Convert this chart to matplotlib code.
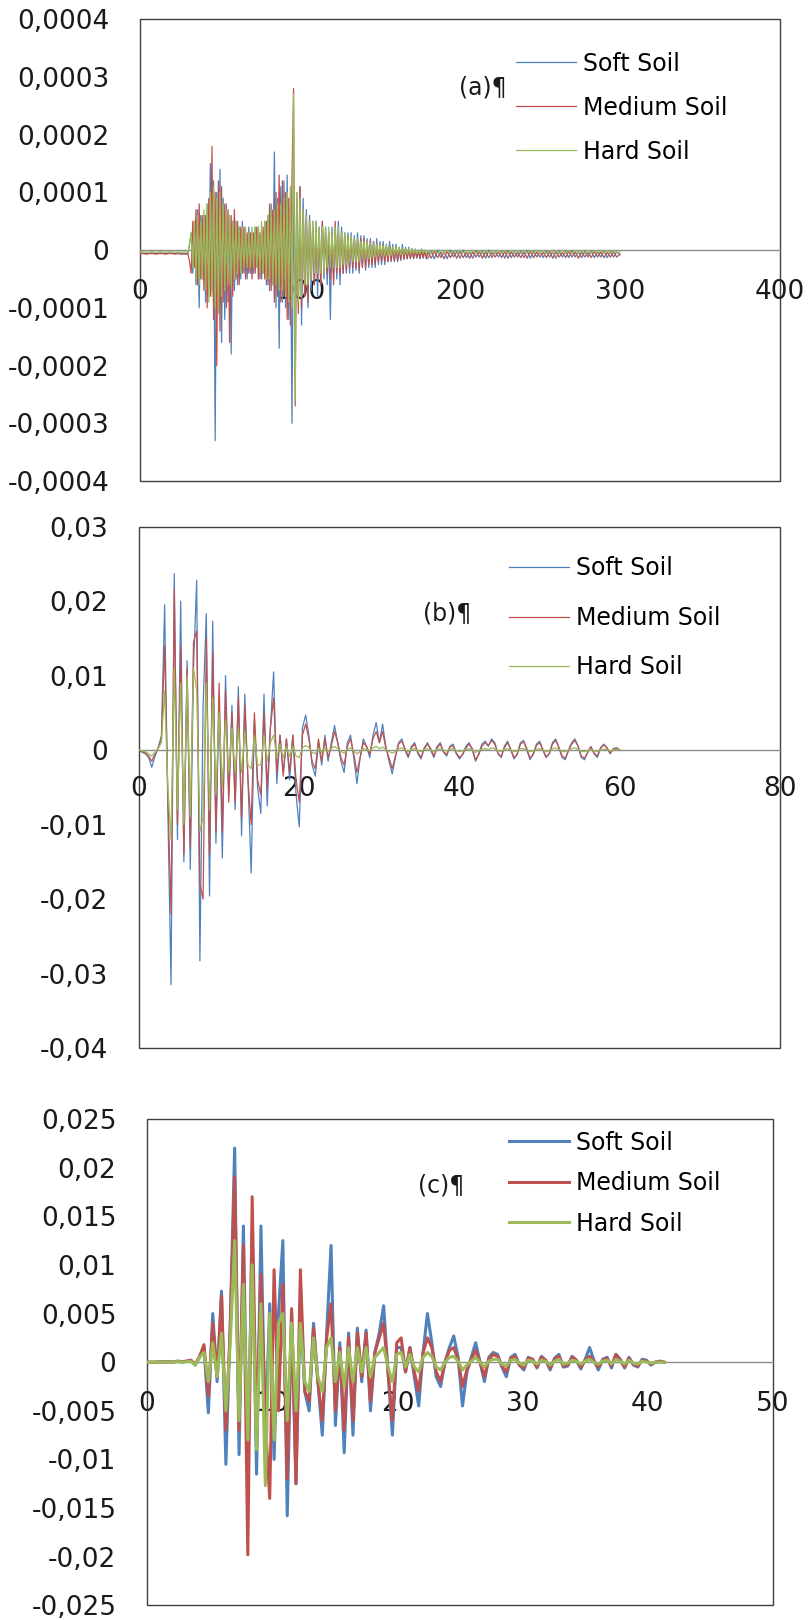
import numpy as np
import matplotlib
matplotlib.use("Agg")
import matplotlib.pyplot as plt

# ---------------- data ----------------
series_names = ["Soft Soil", "Medium Soil", "Hard Soil"]
series_colors = ["#4F81BD", "#C0504D", "#9BBB59"]

# panel (a): sampled every 2 s up to 28, every 1 s from 30 to 179, every 2 s from 180 to 300
# values in 1e-5
a_segments = [(0, 30, 2), (30, 180, 1), (180, 301, 2)]
soft_a = [
    # 0-28
    -0.5, -0.5, -0.6, -0.5, -0.5, -0.6, -0.5, -0.5, -0.6, -0.5, -0.5, -0.6, -0.5, -0.6, -0.7,
    # 30-179
    -0.6, 1, 3, -4, 5, -6, 7, -10, 6, -5,
    6, -9, 8, -5, 15, -7, 12, -33, 10, -8,
    14, -16, 9, -12, 8, -9, 6, -18, 5, -7,
    5, -6, 4, -5, 5, -4, 3, -5, 4, -4,
    3, -4, 4, -3, 4, -5, 3, -4, 5, -6,
    6, -7, 8, -6, 17, -10, 9, -17, 11, -9,
    12, -10, 13, -12, 9, -30, 12, -14, 10, -9,
    11, -13, 9, -8, 7, -10, 6, -7, 5, -6,
    5, -8, 4, -6, 5, -5, 4, -6, 3, -12,
    4, -5, 4, -5, 5, -6, 4, -4, 3, -4,
    3, -4, 3, -4, 2.5, -3.5, 3, -4, 2.5, -3,
    2.5, -3.5, 2, -3, 2, -3, 1.5, -3, 2, -2.5,
    1.5, -2.5, 1.5, -2.5, 1, -2, 1.5, -2, 1, -2,
    1, -2, 0.5, -1.8, 1, -1.6, 0.5, -1.5, 0.5, -1.5,
    0.3, -1.5, 0.2, -1.4, 0, -1.5, 0.2, -1.4, 0, -1.5,
    # 180-300
    -1.4, -0.2, -1.5, 0, -1.3, -0.3, -1.5, 0, -1.2, -0.2,
    -1.4, 0, -1.3, -0.3, -1.4, -0.1, -1.2, -0.2, -1.4, 0,
    -1.3, -0.3, -1.2, -0.2, -1.4, -0.1, -1.3, -0.3, -1.2, -0.2,
    -1.3, -0.1, -1.4, -0.2, -1.2, -0.3, -1.3, -0.1, -1.2, -0.3,
    -1.4, -0.2, -1.2, -0.2, -1.3, -0.1, -1.2, -0.3, -1.3, -0.2,
    -1.2, -0.2, -1.3, -0.3, -1.2, -0.2, -1.3, -0.2, -1.2, -0.3, -0.8]
medium_a = [
    -0.6, -0.6, -0.7, -0.6, -0.6, -0.7, -0.6, -0.6, -0.7, -0.6, -0.6, -0.7, -0.6, -0.7, -0.6,
    -0.7, -2, -4, 5, -3, 7, -6, 8, -5, 6,
    -7, 6, -10, 9, -8, 18, -12, 10, -20, 12,
    -14, 11, -9, 8, -10, 7, -16, 6, -8, 7,
    -5, 5, -6, 4, -4, 4, -5, 3, -4, 3,
    -5, 3, -4, 4, -5, 3, -5, 4, -5, 5,
    -6, 8, -7, 7, -9, 10, -8, 13, -9, 12,
    -8, 10, -12, 9, -13, 12, 28, -27, 9, -11,
    11, -10, 7, -8, 6, -9, 5, -5, 4, -6,
    4, -5, 3, -6, 5, -4, 3, -4, 3, -5,
    3, -6, 5, -4, 3, -4, 3, -4, 2.5, -3.5,
    2.5, -3, 2, -3, 2, -3, 2, -3.5, 2, -3,
    2, -3, 1.5, -2.5, 1.5, -2.5, 1.5, -2.5, 1, -2,
    1, -2, 1, -2, 0.5, -2, 0.8, -1.8, 0.5, -1.8,
    0.5, -1.8, 0.3, -1.6, 0.3, -1.5, 0.2, -1.5, 0, -1.4,
    0, -1.4, 0, -1.3, -0.2, -1.4, -0.1, -1.3, -0.2, -1.4,
    -0.3, -1.4, -0.2, -1.3, -0.4, -1.5, -0.2, -1.3, -0.3, -1.4,
    -0.2, -1.3, -0.4, -1.4, -0.3, -1.2, -0.2, -1.4, -0.3, -1.3,
    -0.4, -1.2, -0.3, -1.3, -0.2, -1.4, -0.3, -1.2, -0.4, -1.3,
    -0.3, -1.4, -0.2, -1.3, -0.3, -1.2, -0.4, -1.3, -0.2, -1.4,
    -0.3, -1.2, -0.4, -1.3, -0.2, -1.2, -0.3, -1.4, -0.3, -1.2,
    -0.4, -1.3, -0.2, -1.2, -0.3, -1.3, -0.4, -1.2, -0.3, -1.2, -0.7]
hard_a = [
    -0.3, -0.3, -0.4, -0.3, -0.3, -0.4, -0.3, -0.3, -0.4, -0.3, -0.3, -0.4, -0.3, -0.4, -0.3,
    -0.4, 1, 3, -3, 5, -5, 6, -6, 5, -5,
    7, -7, 8, -9, 10, -8, 11, -10, 9, -11,
    10, -8, 8, -7, 7, -6, 6, -6, 5, -5,
    5, -4, 4, -4, 4, -3, 4, -3, 3, -3,
    4, -3, 4, -3, 4, -4, 5, -4, 5, -5,
    6, -5, 7, -6, 7, -6, 8, -7, 8, -7,
    9, -8, 10, -9, 11, -10, 27, -26, 10, -9,
    9, -8, 7, -6, 6, -6, 5, -5, 5, -4,
    5, -4, 4, -4, 4, -4, 4, -3, 4, -3,
    3, -3, 4, -3, 4, -3, 3, -2.5, 3, -2.5,
    2.5, -2, 2.5, -2, 2, -2, 2, -2, 1.5, -1.5,
    1.5, -1.5, 1.5, -1.5, 1.2, -1.2, 1.2, -1.2, 1, -1,
    1, -1, 0.8, -1, 0.8, -0.9, 0.6, -0.9, 0.6, -0.8,
    0.5, -0.8, 0.5, -0.8, 0.4, -0.7, 0.3, -0.7, 0.3, -0.7,
    0.2, -0.6, 0.1, -0.6, 0, -0.6, 0.1, -0.5, 0, -0.6,
    0, -0.6, 0, -0.5, -0.1, -0.6, 0, -0.5, -0.1, -0.6,
    0, -0.5, -0.1, -0.6, 0, -0.5, -0.1, -0.6, 0, -0.5,
    -0.1, -0.6, 0, -0.5, -0.1, -0.6, 0, -0.5, -0.1, -0.6,
    0, -0.5, -0.1, -0.6, 0, -0.5, -0.1, -0.6, 0, -0.5,
    -0.1, -0.6, 0, -0.5, -0.1, -0.6, 0, -0.5, -0.1, -0.6,
    0, -0.5, -0.1, -0.6, 0, -0.5, -0.1, -0.6, 0, -0.5, -0.3]

# panel (b): sample step 0.4 s, values in 1e-3
b_segments = [(0, 60.2, 0.4)]
soft_b = [0, -0.3, -0.5, -1, -2.3, -0.8, 0.3, 2, 19.5, -8,
          -31.5, 23.7, -12, 20, -15, 12, -16, 11, 22.8, -28.3,
          6, 18.3, -19.6, 17.3, -12.5, 7, -14.5, 10, -6, 6,
          -8, 8.5, -11.5, 7.5, -4, -16.5, 4, -5, -8.5, 7.5,
          -7.5, 3, 10.5, -4.5, 2, -3, 1.5, -4, 2, -6,
          -10.3, 3, 4.7, 2, -2, -3.5, 1, -2, 2, -1.5,
          1, 3.3, 1, -1.5, -3, 1, 2, -1, -4.5, -1,
          1.5, 0.5, -1, 2, 3.7, 1, 3.5, 0.5, -1.5, -3.2,
          -1, 1, 1.5, 0, -1, 0.5, 1, -0.5, -1.2, 0.3,
          1, 0, -1, 0.5, 1, -0.3, -0.8, 0.5, 0.8, -0.5,
          -1.2, -0.5, 0.5, 1, 0, -1.5, -0.5, 0.8, 1.2, 0.5,
          1.5, 1, -0.5, -1, 0.5, 1.2, 0, -1.2, -0.5, 1,
          1.3, 0, -1.3, -0.5, 0.8, 1.2, 0, -1, -0.5, 1,
          1.5, 0.3, -1, -1.3, 0, 1, 1.5, 0.5, -1, -1.3,
          -0.3, 0.5, -0.5, -1, 0.3, 0.8, 0.3, -0.5, 0.2, 0.3, 0]
medium_b = [0, -0.2, -0.4, -0.8, -1.5, -0.5, 0.3, 1.5, 14, -6,
            -22, 21.5, -10, 14, -14, 11, -13, 14.5, 16, -18,
            -20, 15, -14, 13, -11, 9, -11, 8, -7, 5,
            -7, 7, -9, 6, -4, -10, 5, -4, -6, 5,
            -5, 3, 7, -3, 2, -3.5, 1.5, -3, 2, -4,
            -7, 2, 3.5, 1.5, -1.5, -2.5, 1.5, -1.5, 1.5, -1,
            0.5, 2.5, 1, -1, -2, 0.5, 1.5, -0.5, -3, -1,
            1, 0.5, -0.5, 1.5, 2.5, 1, 2.5, 0.3, -1, -2.5,
            -0.8, 0.8, 1.2, 0.2, -0.8, 0.3, 0.8, -0.3, -1, 0.2,
            0.8, 0.2, -0.8, 0.3, 0.8, -0.2, -0.6, 0.4, 0.6, -0.4,
            -1, -0.6, 0.3, 0.8, 0.2, -1.3, -0.6, 0.5, 1, 0.6,
            1.3, 0.8, -0.4, -0.9, 0.3, 1, 0.1, -1, -0.6, 0.8,
            1.1, 0.2, -1.1, -0.6, 0.6, 1, 0.1, -0.9, -0.5, 0.8,
            1.3, 0.4, -0.8, -1.1, -0.1, 0.8, 1.3, 0.5, -0.8, -1.1,
            -0.3, 0.4, -0.4, -0.8, 0.2, 0.7, 0.3, -0.4, 0.1, 0.3, 0]
hard_b = [0, -0.1, -0.2, -0.5, -0.8, -0.3, 0.2, 1, 8, -5,
          -12, 11, -8, 9, -10, 10, -9, 11, 8, -11,
          -9, 9, -8, 7, -6, 5, -5, 4, -3, 3,
          -3, 3, -3, 2.5, -2, -2.5, 2, -2, -2, 2,
          -1.5, 1, 2, -1, 0.8, -1, 0.5, -0.8, 0.5, -0.8,
          -1, 0.3, 0.6, 0.4, -0.3, -0.5, 0.3, -0.3, 0.3, -0.2,
          0.2, 0.5, 0.2, -0.2, -0.4, 0.1, 0.3, -0.1, -0.5, -0.2,
          0.2, 0.1, -0.1, 0.3, 0.5, 0.2, 0.4, 0.1, -0.2, -0.4,
          -0.2, 0.2, 0.3, 0, -0.2, 0.1, 0.2, -0.1, -0.2, 0.1,
          0.2, 0, -0.2, 0.1, 0.2, 0, -0.1, 0.1, 0.2, -0.1,
          -0.2, -0.1, 0.1, 0.2, 0, -0.3, -0.1, 0.1, 0.2, 0.1,
          0.3, 0.2, -0.1, -0.2, 0.1, 0.2, 0, -0.2, -0.1, 0.2,
          0.2, 0, -0.2, -0.1, 0.1, 0.2, 0, -0.2, -0.1, 0.2,
          0.3, 0.1, -0.2, -0.2, 0, 0.2, 0.3, 0.1, -0.2, -0.2,
          -0.1, 0.1, -0.1, -0.2, 0, 0.1, 0.1, -0.1, 0, 0.1, 0]

# panel (c): sample step 0.35 s, values in 1e-3
c_segments = [(0, 41.4, 0.35)]
soft_c = [0, 0, 0, 0, 0.05, 0, 0.05, 0.1, 0, 0.1,
          0.2, -0.3, 0.5, 1.5, -5.2, 5, -2, 7.3, -10.5, 4,
          22, -9.5, 14, -12, 13.5, -11.5, 14, -8, 6, -10,
          5, 12.5, -15.8, 5, -12.5, 6, -3, -5, 4, -2,
          -7.5, 3, 12, -6.5, 2, -9.3, 3, -7.5, 3.5, -2,
          3.3, -5, 1, 3, 5.8, -1, -7.5, 1.5, 1.5, -1,
          1.5, -1.5, -4.5, 1, 5, 2, -1.5, -2.5, 0, 1.5,
          2.7, 0.5, -4.5, -1, 0.5, 2, 0, -2, 0.5, 1,
          0.8, -0.5, -1.5, 0.5, 0.8, -0.3, -0.8, 0.5, 0.3, -0.6,
          0.6, 0.2, -0.8, 0.4, 0.8, -0.5, -0.4, 0.6, 0.2, -0.7,
          0.3, 1.5, 0.2, -0.8, 0.3, 0.5, -0.6, 0.8, 0.3, -0.6,
          0.5, -0.3, -0.5, 0.3, 0.2, -0.3, 0, 0.1, 0]
medium_c = [0, 0, 0, 0.05, 0, 0.05, 0, 0.1, 0.05, 0.1,
            0.2, -0.2, 0.6, 1.8, -3.5, 4, -1.5, 6.8, -7, 3.5,
            19, -7, 12, -19.8, 17, -8, 9, -6, -14, 9.5,
            -5, 8, -12, 5.5, -12.5, 9.5, -3, -4, 3.5, -2,
            -6, 2.5, 6, -5, 1.5, -7, 2.5, -6, 3, -1.5,
            3, -4, 1, 2.5, 4, -1, -6, 2, 2.5, -1,
            1.5, -1, -3, 1, 2.5, 1.5, -1, -2, 0, 1.2,
            1.5, 0.3, -2.5, -0.8, 0.3, 1.2, 0, -1.5, 0.3, 0.8,
            0.6, -0.4, -1, 0.4, 0.6, -0.3, -0.6, 0.4, 0.3, -0.5,
            0.5, 0.2, -0.6, 0.3, 0.6, -0.4, -0.3, 0.5, 0.2, -0.5,
            0.2, 0.6, 0.1, -0.5, 0.2, 0.4, -0.4, 0.8, 0.2, -0.5,
            0.4, -0.2, -0.4, 0.2, 0.1, -0.2, 0, 0.1, 0]
hard_c = [0, 0, 0, 0, 0.03, 0, 0.03, 0.05, 0, 0.05,
          0.1, -0.3, 0.5, 1, -2, 2, -1.5, 3, -5, 2,
          12.5, -6, 8, -8, 10, -9, 6, -12.7, 5, -8,
          4, 5, -6, 4, -5, 4, -2, -3, 2.5, -1.5,
          -3, 1.5, 2.5, -2, 1, -2.5, 1.5, -2, 1.5, -1,
          1.5, -1.5, 0.5, 1, 1.5, -0.5, -2, 0.8, 1, -0.5,
          0.8, -0.5, -1, 0.5, 1, 0.6, -0.5, -0.8, 0, 0.5,
          0.6, 0.1, -0.8, -0.3, 0.1, 0.5, 0, -0.5, 0.1, 0.3,
          0.3, -0.2, -0.4, 0.2, 0.3, -0.1, -0.3, 0.2, 0.1, -0.2,
          0.2, 0.1, -0.3, 0.1, 0.3, -0.2, -0.1, 0.2, 0.1, -0.2,
          0.1, 0.3, 0, -0.2, 0.1, 0.2, -0.2, 0.3, 0.1, -0.2,
          0.2, -0.1, -0.2, 0.1, 0, -0.1, 0, 0, 0]

# axis ticks
xticks_a = [0, 100, 200, 300, 400]
xticks_b = [0, 20, 40, 60, 80]
xticks_c = [0, 10, 20, 30, 40, 50]
yticks_a = [-0.0004, -0.0003, -0.0002, -0.0001, 0, 0.0001, 0.0002, 0.0003, 0.0004]
ylabels_a = ["-0,0004", "-0,0003", "-0,0002", "-0,0001", "0",
             "0,0001", "0,0002", "0,0003", "0,0004"]
yticks_b = [-0.04, -0.03, -0.02, -0.01, 0, 0.01, 0.02, 0.03]
ylabels_b = ["-0,04", "-0,03", "-0,02", "-0,01", "0", "0,01", "0,02", "0,03"]
yticks_c = [-0.025, -0.02, -0.015, -0.01, -0.005, 0, 0.005, 0.01, 0.015, 0.02, 0.025]
ylabels_c = ["-0,025", "-0,02", "-0,015", "-0,01", "-0,005", "0",
             "0,005", "0,01", "0,015", "0,02", "0,025"]
panel_tags = ["(a)¶", "(b)¶", "(c)¶"]


def sample_times(segments):
    return np.concatenate([np.arange(a, b, step) for a, b, step in segments])


# ---------------- figure ----------------
plt.rcParams["font.family"] = ["DejaVu Sans"]
fig = plt.figure(figsize=(8.1, 16.2), dpi=100)

panels = [
    dict(rect=[0.1728, 0.7031, 0.7901, 0.2850], seg=a_segments, unit=1e-5,
         data=[soft_a, medium_a, hard_a], xt=xticks_a, yt=yticks_a, yl=ylabels_a,
         lw=0.9, tag=(0.536, 0.853), leg=(0.5875, 0.93, 0.85), xpad=21),
    dict(rect=[0.1716, 0.3531, 0.7914, 0.3218], seg=b_segments, unit=1e-3,
         data=[soft_b, medium_b, hard_b], xt=xticks_b, yt=yticks_b, yl=ylabels_b,
         lw=0.9, tag=(0.481, 0.8325), leg=(0.577, 0.943, 1.08), xpad=19),
    dict(rect=[0.1815, 0.0090, 0.7728, 0.3003], seg=c_segments, unit=1e-3,
         data=[soft_c, medium_c, hard_c], xt=xticks_c, yt=yticks_c, yl=ylabels_c,
         lw=2.2, tag=(0.47, 0.864), leg=(0.578, 0.976, 0.7), xpad=21),
]

for p, tag in zip(panels, panel_tags):
    ax = fig.add_axes(p["rect"])
    t = sample_times(p["seg"])
    handles = []
    for vals, name, col in zip(p["data"], series_names, series_colors):
        y = np.array(vals) * p["unit"]
        ln, = ax.plot(t[:len(y)], y, color=col, lw=p["lw"], label=name, zorder=3)
        handles.append(ln)

    ax.set_xlim(p["xt"][0], p["xt"][-1])
    ax.set_ylim(p["yt"][0], p["yt"][-1])
    ax.set_xticks(p["xt"])
    ax.set_yticks(p["yt"])
    ax.set_yticklabels(p["yl"])

    # plot-area border + horizontal axis through zero
    ax.patch.set_edgecolor("#404040")
    ax.patch.set_linewidth(1.0)
    for s in ["top", "left", "right"]:
        ax.spines[s].set_visible(False)
    ax.spines["bottom"].set_position(("data", 0))
    ax.spines["bottom"].set_color("#8c8c8c")
    ax.spines["bottom"].set_linewidth(1.0)
    ax.spines["bottom"].set_zorder(1)

    ax.tick_params(axis="x", length=0, pad=p["xpad"], labelsize=19, labelcolor="#1a1a1a")
    ax.tick_params(axis="y", length=0, pad=22, labelsize=19, labelcolor="#1a1a1a")

    ax.text(p["tag"][0], p["tag"][1], tag, transform=ax.transAxes,
            ha="center", va="center", fontsize=17, color="#1a1a1a")

    lx, ltop, lsp = p["leg"]
    ax.legend(handles=handles, loc="upper left", bbox_to_anchor=(lx, ltop),
              frameon=False, fontsize=17, handlelength=2.55, handletextpad=0.3,
              labelspacing=lsp, borderpad=0, borderaxespad=0)

fig.savefig("out.png", dpi=100, facecolor="white")
